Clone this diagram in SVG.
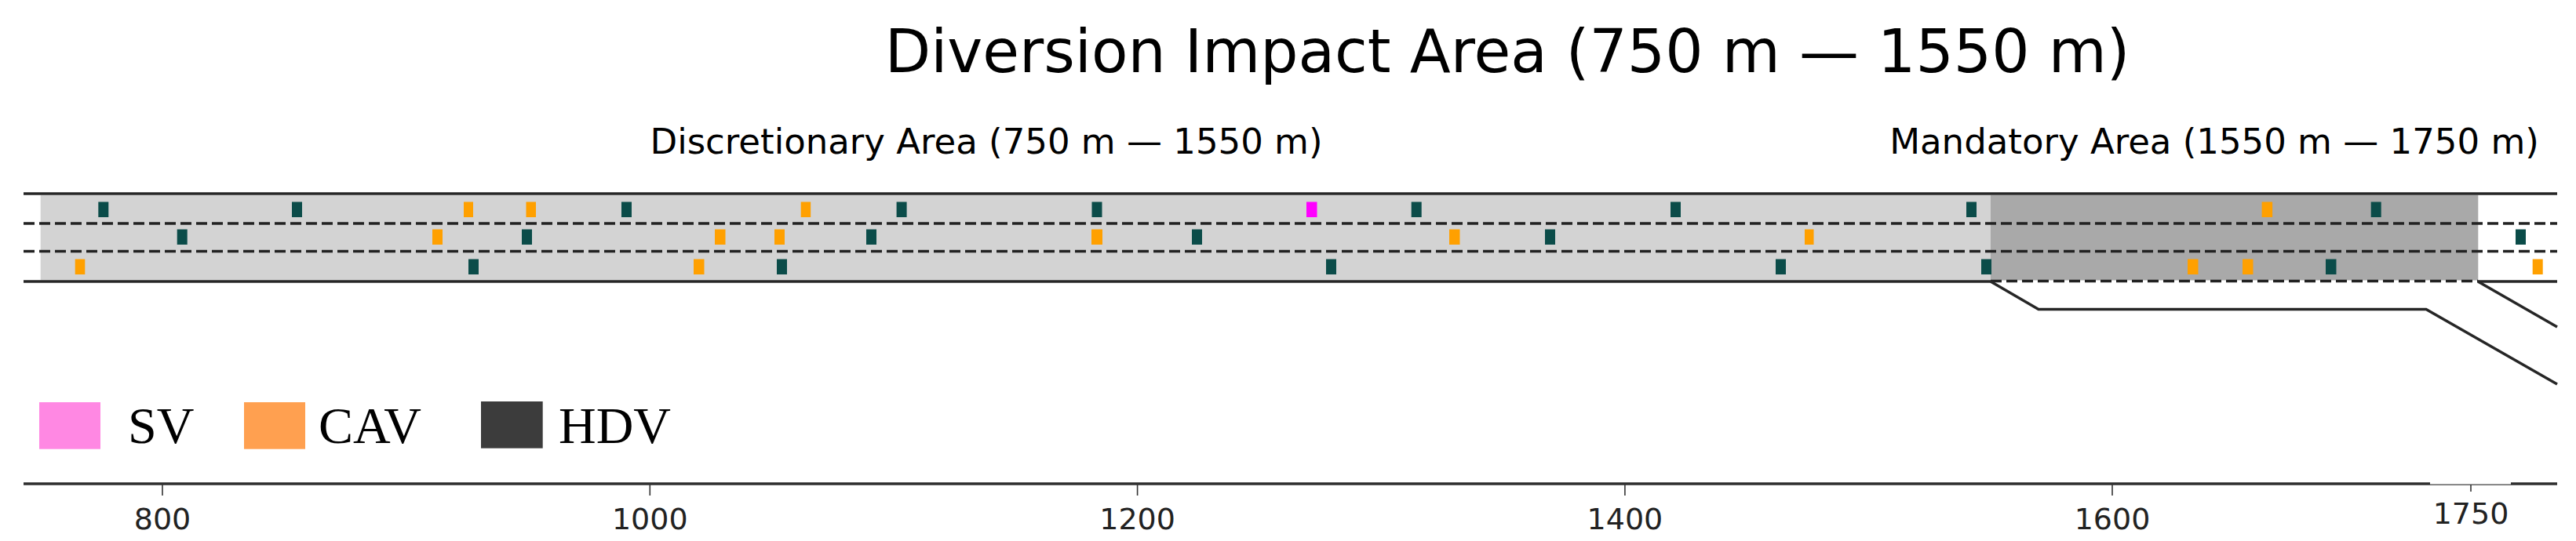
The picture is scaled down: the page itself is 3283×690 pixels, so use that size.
<svg xmlns="http://www.w3.org/2000/svg" width="3283" height="690" viewBox="0 0 3283 690">
<style>
.edge{stroke:#262626;stroke-width:3.5;fill:none}
.dash{stroke:#222;stroke-width:3.5;stroke-dasharray:14 6;fill:none}
.hdv{fill:#0b4c49}
.cav{fill:#ffa000}
.sv{fill:#ff00ff}
.t{font-family:"DejaVu Sans",sans-serif;fill:#000}
.lg{font-family:"Liberation Serif","Times New Roman",serif;font-size:66px;fill:#000}
.tick{stroke:#333;stroke-width:1.6}
.tl{font-family:"DejaVu Sans",sans-serif;font-size:38px;fill:#222;text-anchor:middle}
</style>
<rect width="3283" height="690" fill="#fff"/>
<g id="titles">
<text class="t" x="1921" y="92" font-size="76" text-anchor="middle">Diversion Impact Area (750 m — 1550 m)</text>
<text class="t" x="1257" y="196" font-size="45" text-anchor="middle">Discretionary Area (750 m — 1550 m)</text>
<text class="t" x="2822" y="196" font-size="45" text-anchor="middle">Mandatory Area (1550 m — 1750 m)</text>
</g>
<g id="road">
<rect x="51.7" y="249" width="2485.3" height="108.5" fill="#d3d3d3"/>
<rect x="2537" y="249" width="621.3" height="108.5" fill="#a9a9a9"/>
<line class="edge" x1="30" y1="247" x2="3259" y2="247"/>
<line class="dash" x1="30" y1="285" x2="3259" y2="285"/>
<line class="dash" x1="30" y1="320.5" x2="3259" y2="320.5"/>
<line class="edge" x1="30" y1="359" x2="2537" y2="359"/>
<line class="dash" x1="2537" y1="358.5" x2="3158" y2="358.5"/>
<line class="edge" x1="3158" y1="359" x2="3259" y2="359"/>
<polyline class="edge" points="2537,359 2598,394.5 3092,394.5 3259,490"/>
<line class="edge" x1="3158" y1="359" x2="3259" y2="417"/>
</g>
<g id="vehicles">
<g id="lane1">
<rect class="hdv" x="125.3" y="257.5" width="13" height="19.5"/>
<rect class="hdv" x="372" y="257.5" width="13" height="19.5"/>
<rect class="cav" x="591" y="257.5" width="12" height="19.5"/>
<rect class="cav" x="670.5" y="257.5" width="12.5" height="19.5"/>
<rect class="hdv" x="792" y="257.5" width="13" height="19.5"/>
<rect class="cav" x="1020.7" y="257.5" width="12.5" height="19.5"/>
<rect class="hdv" x="1142.6" y="257.5" width="13" height="19.5"/>
<rect class="hdv" x="1391.5" y="257.5" width="13" height="19.5"/>
<rect class="sv" x="1665" y="257.5" width="13.5" height="19.5"/>
<rect class="hdv" x="1798.7" y="257.5" width="13" height="19.5"/>
<rect class="hdv" x="2129" y="257.5" width="13" height="19.5"/>
<rect class="hdv" x="2506" y="257.5" width="13" height="19.5"/>
<rect class="cav" x="2882.6" y="257.5" width="13.5" height="19.5"/>
<rect class="hdv" x="3021.7" y="257.5" width="13" height="19.5"/>
</g>
<g id="lane2">
<rect class="hdv" x="225.7" y="292.5" width="13" height="19.5"/>
<rect class="cav" x="551" y="292.5" width="13" height="19.5"/>
<rect class="hdv" x="665" y="292.5" width="13" height="19.5"/>
<rect class="cav" x="911" y="292.5" width="13.5" height="19.5"/>
<rect class="cav" x="987" y="292.5" width="13" height="19.5"/>
<rect class="hdv" x="1104" y="292.5" width="13" height="19.5"/>
<rect class="cav" x="1391" y="292.5" width="14" height="19.5"/>
<rect class="hdv" x="1519" y="292.5" width="13" height="19.5"/>
<rect class="cav" x="1847" y="292.5" width="13.5" height="19.5"/>
<rect class="hdv" x="1969" y="292.5" width="13" height="19.5"/>
<rect class="cav" x="2300" y="292.5" width="11.5" height="19.5"/>
<rect class="hdv" x="3206" y="292.5" width="13" height="19.5"/>
</g>
<g id="lane3">
<rect class="cav" x="95.7" y="330.5" width="12.6" height="19.5"/>
<rect class="hdv" x="597" y="330.5" width="13" height="19.5"/>
<rect class="cav" x="884" y="330.5" width="13.5" height="19.5"/>
<rect class="hdv" x="990" y="330.5" width="13" height="19.5"/>
<rect class="hdv" x="1690" y="330.5" width="13" height="19.5"/>
<rect class="hdv" x="2263" y="330.5" width="13" height="19.5"/>
<rect class="hdv" x="2525" y="330.5" width="13" height="19.5"/>
<rect class="cav" x="2788" y="330.5" width="13.5" height="19.5"/>
<rect class="cav" x="2858" y="330.5" width="13.5" height="19.5"/>
<rect class="hdv" x="2964" y="330.5" width="13.5" height="19.5"/>
<rect class="cav" x="3227.7" y="330.5" width="13" height="19.5"/>
</g>
</g>
<g id="legend">
<g id="legend-sv"><rect x="50" y="513" width="78" height="59.7" fill="#ff88e3"/><text class="lg" x="163" y="565">SV</text></g>
<g id="legend-cav"><rect x="311" y="513" width="78" height="59.7" fill="#ffa050"/><text class="lg" x="406" y="565">CAV</text></g>
<g id="legend-hdv"><rect x="613" y="512" width="78.7" height="59.7" fill="#3c3c3c"/><text class="lg" x="712" y="565">HDV</text></g>
</g>
<g id="axis">
<line x1="30" y1="617" x2="3259" y2="617" stroke="#2e2e2e" stroke-width="3.5"/>
<rect x="3097" y="614" width="103" height="3.6" fill="#fff"/>
<line class="tick" x1="207" y1="617" x2="207" y2="632"/>
<line class="tick" x1="828.3" y1="617" x2="828.3" y2="632"/>
<line class="tick" x1="1449.6" y1="617" x2="1449.6" y2="632"/>
<line class="tick" x1="2070.9" y1="617" x2="2070.9" y2="632"/>
<line class="tick" x1="2692" y1="617" x2="2692" y2="632"/>
<line class="tick" x1="3149" y1="618" x2="3149" y2="627"/>
<text class="tl" x="207" y="675">800</text>
<text class="tl" x="828.3" y="675">1000</text>
<text class="tl" x="1449.6" y="675">1200</text>
<text class="tl" x="2070.9" y="675">1400</text>
<text class="tl" x="2692" y="675">1600</text>
<text class="tl" x="3149" y="668" font-size="36">1750</text>
</g>
</svg>
